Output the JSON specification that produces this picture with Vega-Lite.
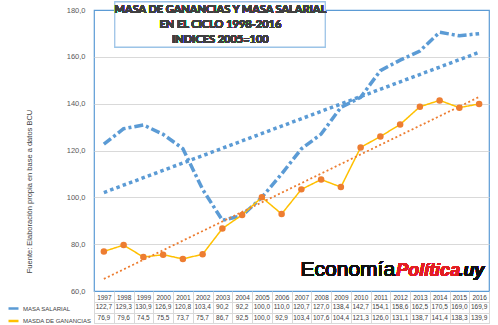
{
  "$schema": "https://vega.github.io/schema/vega-lite/v6.json",
  "padding": {"left": 6, "top": 0, "right": 7, "bottom": 0},
  "background": "white",
  "bounds": "flush",
  "config": {
    "locale": {"number": {"decimal": ",", "thousands": ".", "grouping": [3], "currency": ["", ""]}},
    "font": "Liberation Sans"
  },
  "datasets": {
    "d": [
      {"year": 1997, "series": "MASA SALARIAL", "value": 122.7},
      {"year": 1998, "series": "MASA SALARIAL", "value": 129.3},
      {"year": 1999, "series": "MASA SALARIAL", "value": 130.9},
      {"year": 2000, "series": "MASA SALARIAL", "value": 126.9},
      {"year": 2001, "series": "MASA SALARIAL", "value": 120.8},
      {"year": 2002, "series": "MASA SALARIAL", "value": 103.4},
      {"year": 2003, "series": "MASA SALARIAL", "value": 90.2},
      {"year": 2004, "series": "MASA SALARIAL", "value": 92.2},
      {"year": 2005, "series": "MASA SALARIAL", "value": 100.0},
      {"year": 2006, "series": "MASA SALARIAL", "value": 110.0},
      {"year": 2007, "series": "MASA SALARIAL", "value": 120.7},
      {"year": 2008, "series": "MASA SALARIAL", "value": 127.0},
      {"year": 2009, "series": "MASA SALARIAL", "value": 138.4},
      {"year": 2010, "series": "MASA SALARIAL", "value": 142.7},
      {"year": 2011, "series": "MASA SALARIAL", "value": 154.1},
      {"year": 2012, "series": "MASA SALARIAL", "value": 158.6},
      {"year": 2013, "series": "MASA SALARIAL", "value": 162.5},
      {"year": 2014, "series": "MASA SALARIAL", "value": 170.5},
      {"year": 2015, "series": "MASA SALARIAL", "value": 169.0},
      {"year": 2016, "series": "MASA SALARIAL", "value": 169.9},
      {"year": 1997, "series": "MASDA DE GANANCIAS", "value": 76.9},
      {"year": 1998, "series": "MASDA DE GANANCIAS", "value": 79.6},
      {"year": 1999, "series": "MASDA DE GANANCIAS", "value": 74.5},
      {"year": 2000, "series": "MASDA DE GANANCIAS", "value": 75.5},
      {"year": 2001, "series": "MASDA DE GANANCIAS", "value": 73.7},
      {"year": 2002, "series": "MASDA DE GANANCIAS", "value": 75.7},
      {"year": 2003, "series": "MASDA DE GANANCIAS", "value": 86.7},
      {"year": 2004, "series": "MASDA DE GANANCIAS", "value": 92.5},
      {"year": 2005, "series": "MASDA DE GANANCIAS", "value": 100.0},
      {"year": 2006, "series": "MASDA DE GANANCIAS", "value": 92.9},
      {"year": 2007, "series": "MASDA DE GANANCIAS", "value": 103.4},
      {"year": 2008, "series": "MASDA DE GANANCIAS", "value": 107.6},
      {"year": 2009, "series": "MASDA DE GANANCIAS", "value": 104.4},
      {"year": 2010, "series": "MASDA DE GANANCIAS", "value": 121.3},
      {"year": 2011, "series": "MASDA DE GANANCIAS", "value": 126.0},
      {"year": 2012, "series": "MASDA DE GANANCIAS", "value": 131.1},
      {"year": 2013, "series": "MASDA DE GANANCIAS", "value": 138.7},
      {"year": 2014, "series": "MASDA DE GANANCIAS", "value": 141.4},
      {"year": 2015, "series": "MASDA DE GANANCIAS", "value": 138.3},
      {"year": 2016, "series": "MASDA DE GANANCIAS", "value": 139.9}
    ]
  },
  "data": {"name": "d"},
  "spacing": 11,
  "resolve": {"legend": {"color": "independent"}},
  "vconcat": [
    {
      "width": 395,
      "height": 281,
      "view": {"stroke": "#5B9BD5", "strokeWidth": 1.2},
      "encoding": {
        "x": {"field": "year", "type": "ordinal", "scale": {"type": "point", "padding": 0.5}, "axis": null},
        "y": {
          "field": "value", "type": "quantitative",
          "scale": {"domain": [60, 180], "nice": false, "zero": false},
          "axis": {
            "values": [60, 80, 100, 120, 140, 160, 180],
            "format": ".1f",
            "grid": true,
            "gridColor": "#D9D9D9",
            "gridOpacity": {"condition": {"test": "datum.value >= 180 || datum.value <= 60", "value": 0}, "value": 1},
            "domain": false,
            "ticks": false,
            "labelPadding": 9,
            "labelFontSize": 7.5,
            "labelColor": "#595959",
            "title": "Fuente: Elaboración propia en base a datos BCU",
            "titleFontSize": 7.5,
            "titleFontWeight": "normal",
            "titleColor": "#404040",
            "titleY": 181,
            "titlePadding": 33
          }
        }
      },
      "layer": [
        {
          "mark": {"type": "line"},
          "encoding": {
            "color": {
              "field": "series", "type": "nominal",
              "scale": {"domain": ["MASA SALARIAL", "MASDA DE GANANCIAS"], "range": ["#5B9BD5", "#FFC000"]},
              "legend": null
            },
            "strokeDash": {
              "field": "series", "type": "nominal",
              "scale": {"domain": ["MASA SALARIAL", "MASDA DE GANANCIAS"], "range": [[9, 3, 3, 3], [1, 0]]},
              "legend": null
            },
            "strokeWidth": {
              "field": "series", "type": "nominal",
              "scale": {"domain": ["MASA SALARIAL", "MASDA DE GANANCIAS"], "range": [3.5, 1.5]},
              "legend": null
            }
          }
        },
        {
          "transform": [{"filter": "datum.series === 'MASDA DE GANANCIAS'"}],
          "mark": {"type": "point", "shape": "circle", "filled": true, "color": "#ED7D31", "size": 42, "opacity": 1}
        },
        {
          "transform": [{"filter": "datum.series === 'MASA SALARIAL'"}, {"regression": "value", "on": "year"}],
          "mark": {"type": "line", "color": "#5B9BD5", "strokeWidth": 3.5, "strokeDash": [3.5, 3.2]}
        },
        {
          "transform": [{"filter": "datum.series === 'MASDA DE GANANCIAS'"}, {"regression": "value", "on": "year"}],
          "mark": {"type": "line", "color": "#ED7D31", "strokeWidth": 1.8, "strokeDash": [2, 2.5]}
        },
        {
          "mark": {"type": "text", "text": "Economía", "align": "right", "baseline": "alphabetic", "font": "Liberation Sans", "fontSize": 21, "fontWeight": 300, "color": "#111111", "dx": -5},
          "encoding": {"x": {"datum": 2012, "type": "ordinal"}, "y": {"datum": 66.4}}
        },
        {
          "mark": {"type": "text", "text": "Política", "align": "left", "baseline": "alphabetic", "font": "Liberation Sans", "fontSize": 18, "fontWeight": "bold", "fontStyle": "italic", "color": "#E31E24", "dx": -4},
          "encoding": {"x": {"datum": 2012, "type": "ordinal"}, "y": {"datum": 66.4}}
        },
        {
          "mark": {"type": "text", "text": ".uy", "align": "left", "baseline": "alphabetic", "font": "Liberation Sans", "fontSize": 18, "fontWeight": "bold", "fontStyle": "italic", "color": "#111111", "dx": -1},
          "encoding": {"x": {"datum": 2015, "type": "ordinal"}, "y": {"datum": 66.4}}
        },
        {
          "mark": {"type": "rect", "fill": "white", "stroke": "#9DC3E6", "strokeWidth": 1, "xOffset": 11, "x2Offset": 4},
          "encoding": {"x": {"datum": 1997, "type": "ordinal"}, "x2": {"datum": 2008}, "y": {"datum": 183.4}, "y2": {"datum": 164.2}}
        },
        {
          "mark": {
            "type": "text",
            "text": ["MASA DE GANANCIAS Y MASA SALARIAL", "EN EL CICLO 1998-2016", "INDICES 2005=100"],
            "align": "center", "baseline": "top", "lineHeight": 14.8,
            "font": "Lato", "fontSize": 11, "fontWeight": "bold", "color": "#404040", "dx": -2
          },
          "encoding": {"x": {"datum": 2003, "type": "ordinal"}, "y": {"datum": 182.4}}
        }
      ]
    },
    {
      "width": 395,
      "height": 21,
      "view": {"stroke": "#D9D9D9"},
      "encoding": {
        "x": {
          "field": "year", "type": "ordinal",
          "scale": {"type": "band", "paddingInner": 0, "paddingOuter": 0},
          "axis": {
            "orient": "top", "title": null, "labelAngle": 0,
            "labelFontSize": 6.5, "labelColor": "#404040",
            "ticks": true, "tickSize": 11, "tickBand": "extent", "tickColor": "#D9D9D9",
            "domain": true, "domainColor": "#D9D9D9",
            "labelPadding": -9, "labelBaseline": "bottom",
            "grid": true, "gridColor": "#D9D9D9"
          }
        },
        "y": {
          "field": "series", "type": "nominal",
          "scale": {"paddingInner": 0, "paddingOuter": 0},
          "axis": {"title": null, "labels": false, "ticks": false, "domain": false, "grid": true, "tickBand": "extent", "gridColor": "#D9D9D9"}
        }
      },
      "layer": [
        {
          "mark": {"type": "line", "opacity": 0},
          "encoding": {
            "color": {
              "field": "series", "type": "nominal",
              "legend": {
                "orient": "left", "title": null, "symbolType": "stroke", "symbolStrokeWidth": 2.5,
                "symbolSize": 100, "labelFontSize": 6, "labelColor": "#404040", "labelOffset": 3,
                "rowPadding": 0.5, "padding": 0, "offset": 2
              }
            }
          }
        },
        {
          "mark": {"type": "text", "fontSize": 6.5, "color": "#404040"},
          "encoding": {"text": {"field": "value", "type": "quantitative", "format": ".1f"}}
        }
      ]
    }
  ]
}
